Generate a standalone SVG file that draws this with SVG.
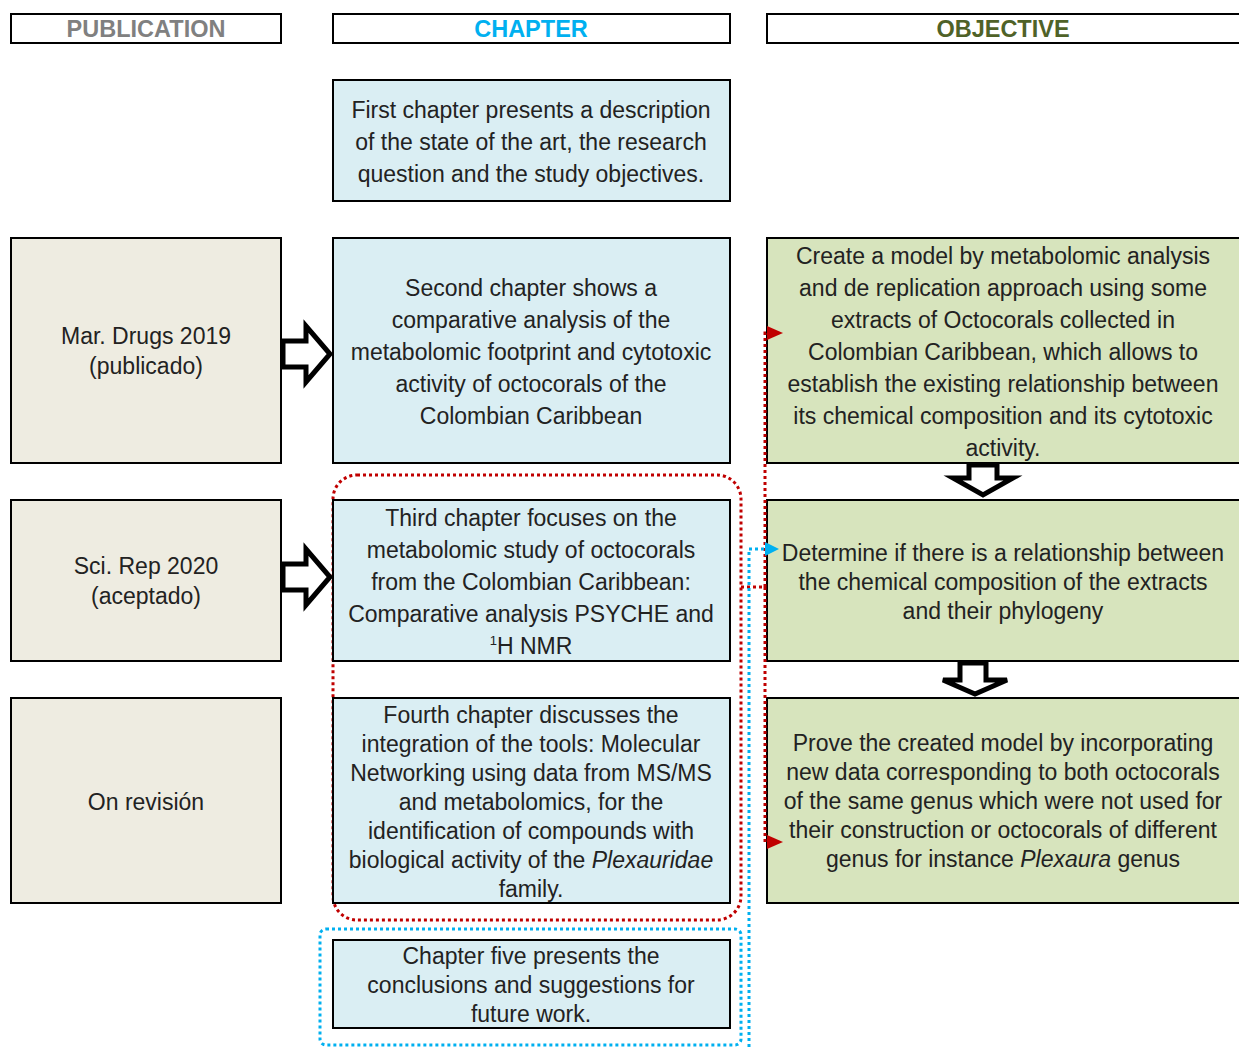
<svg xmlns="http://www.w3.org/2000/svg" width="1239" height="1047" viewBox="0 0 1239 1047">
<style>
  .hdr{fill:#fff;stroke:#000;stroke-width:2}
  .ht{font-family:"Liberation Sans",Arial,sans-serif;font-weight:bold;font-size:23.5px;text-anchor:middle}
  .pub{fill:#EEECE1;stroke:#000;stroke-width:2}
  .ch{fill:#DAEEF3;stroke:#000;stroke-width:2}
  .obj{fill:#D7E4BD;stroke:#000;stroke-width:2}
  .t{font-family:"Liberation Sans",Arial,sans-serif;font-size:23px;fill:#222;text-anchor:middle}
  .blk{fill:#fff;stroke:#000;stroke-width:5;stroke-linejoin:miter}
  .rdot{fill:none;stroke:#C00000;stroke-width:3;stroke-dasharray:3 3}
  .bdot{fill:none;stroke:#00B0F0;stroke-width:3;stroke-dasharray:3 3}
</style>
<defs>
  <marker id="ra" viewBox="0 0 16 14" refX="0" refY="7" markerWidth="16" markerHeight="14" markerUnits="userSpaceOnUse" orient="auto">
    <path d="M0,0 L16,7 L0,14 Z" fill="#C00000"/>
  </marker>
  <marker id="ba" viewBox="0 0 14 14" refX="0" refY="7" markerWidth="14" markerHeight="14" markerUnits="userSpaceOnUse" orient="auto">
    <path d="M0,0 L14,7 L0,14 Z" fill="#00B0F0"/>
  </marker>
</defs>

<g id="headers">
  <g id="hdr-publication"><rect class="hdr" x="11" y="14" width="270" height="29"/><text class="ht" x="146" y="37" fill="#808080">PUBLICATION</text></g>
  <g id="hdr-chapter"><rect class="hdr" x="333" y="14" width="397" height="29"/><text class="ht" x="531" y="37" fill="#00B0F0">CHAPTER</text></g>
  <g id="hdr-objective"><rect class="hdr" x="767" y="14" width="480" height="29"/><text class="ht" x="1003" y="37" fill="#4F6228">OBJECTIVE</text></g>
</g>

<g id="groups">
  <rect id="red-group" class="rdot" x="333" y="475" width="408" height="445" rx="24"/>
  <rect id="blue-group" class="bdot" x="320" y="929" width="421" height="116" rx="6"/>
</g>

<g id="ch1"><rect class="ch" x="333" y="80" width="397" height="121"/>
  <text class="t" x="531" y="118">First chapter presents a description</text>
  <text class="t" x="531" y="150">of the state of the art, the research</text>
  <text class="t" x="531" y="182">question and the study objectives.</text>
</g>

<g id="pub1"><rect class="pub" x="11" y="238" width="270" height="225"/>
  <text class="t" x="146" y="344">Mar. Drugs 2019</text>
  <text class="t" x="146" y="374">(publicado)</text>
</g>
<g id="ch2"><rect class="ch" x="333" y="238" width="397" height="225"/>
  <text class="t" x="531" y="296">Second chapter shows a</text>
  <text class="t" x="531" y="328">comparative analysis of the</text>
  <text class="t" x="531" y="360">metabolomic footprint and cytotoxic</text>
  <text class="t" x="531" y="392">activity of octocorals of the</text>
  <text class="t" x="531" y="424">Colombian Caribbean</text>
</g>
<g id="obj1"><rect class="obj" x="767" y="238" width="480" height="225"/>
  <text class="t" x="1003" y="264">Create a model by metabolomic analysis</text>
  <text class="t" x="1003" y="296">and de replication approach using some</text>
  <text class="t" x="1003" y="328">extracts of Octocorals collected in</text>
  <text class="t" x="1003" y="360">Colombian Caribbean, which allows to</text>
  <text class="t" x="1003" y="392">establish the existing relationship between</text>
  <text class="t" x="1003" y="424">its chemical composition and its cytotoxic</text>
  <text class="t" x="1003" y="456">activity.</text>
</g>

<g id="pub2"><rect class="pub" x="11" y="500" width="270" height="161"/>
  <text class="t" x="146" y="574">Sci. Rep 2020</text>
  <text class="t" x="146" y="604">(aceptado)</text>
</g>
<g id="ch3"><rect class="ch" x="333" y="500" width="397" height="161"/>
  <text class="t" x="531" y="526">Third chapter focuses on the</text>
  <text class="t" x="531" y="558">metabolomic study of octocorals</text>
  <text class="t" x="531" y="590">from the Colombian Caribbean:</text>
  <text class="t" x="531" y="622">Comparative analysis PSYCHE and</text>
  <text class="t" x="531" y="654"><tspan font-size="13" dy="-9">1</tspan><tspan dy="9">H NMR</tspan></text>
</g>
<g id="obj2"><rect class="obj" x="767" y="500" width="480" height="161"/>
  <text class="t" x="1003" y="561">Determine if there is a relationship between</text>
  <text class="t" x="1003" y="590">the chemical composition of the extracts</text>
  <text class="t" x="1003" y="619">and their phylogeny</text>
</g>

<g id="pub3"><rect class="pub" x="11" y="698" width="270" height="205"/>
  <text class="t" x="146" y="810">On revisión</text>
</g>
<g id="ch4"><rect class="ch" x="333" y="698" width="397" height="205"/>
  <text class="t" x="531" y="723">Fourth chapter discusses the</text>
  <text class="t" x="531" y="752">integration of the tools: Molecular</text>
  <text class="t" x="531" y="781">Networking using data from MS/MS</text>
  <text class="t" x="531" y="810">and metabolomics, for the</text>
  <text class="t" x="531" y="839">identification of compounds with</text>
  <text class="t" x="531" y="868">biological activity of the <tspan font-style="italic">Plexauridae</tspan></text>
  <text class="t" x="531" y="897">family.</text>
</g>
<g id="obj3"><rect class="obj" x="767" y="698" width="480" height="205"/>
  <text class="t" x="1003" y="751">Prove the created model by incorporating</text>
  <text class="t" x="1003" y="780">new data corresponding to both octocorals</text>
  <text class="t" x="1003" y="809">of the same genus which were not used for</text>
  <text class="t" x="1003" y="838">their construction or octocorals of different</text>
  <text class="t" x="1003" y="867">genus for instance <tspan font-style="italic">Plexaura</tspan> genus</text>
</g>

<g id="ch5"><rect class="ch" x="333" y="940" width="397" height="88"/>
  <text class="t" x="531" y="964">Chapter five presents the</text>
  <text class="t" x="531" y="993">conclusions and suggestions for</text>
  <text class="t" x="531" y="1022">future work.</text>
</g>

<g id="connectors">
  <polygon class="blk" points="283,341 306,341 306,326 330,354 306,382 306,367 283,367"/>
  <polygon class="blk" points="283,564 306,564 306,549 330,577 306,605 306,590 283,590"/>
  <polygon class="blk" points="969,465 997,465 997,478 1013,478 983,495 953,478 969,478"/>
  <polygon class="blk" points="960,663 986,663 986,680 1007,680 975,694 943,680 960,680"/>
  <path class="rdot" d="M741,587 H765 V333 H767" marker-end="url(#ra)"/>
  <path class="rdot" d="M765,587 V842 H767" marker-end="url(#ra)"/>
  <path class="bdot" d="M749,1047 V549 H765" marker-end="url(#ba)"/>
</g>
</svg>
